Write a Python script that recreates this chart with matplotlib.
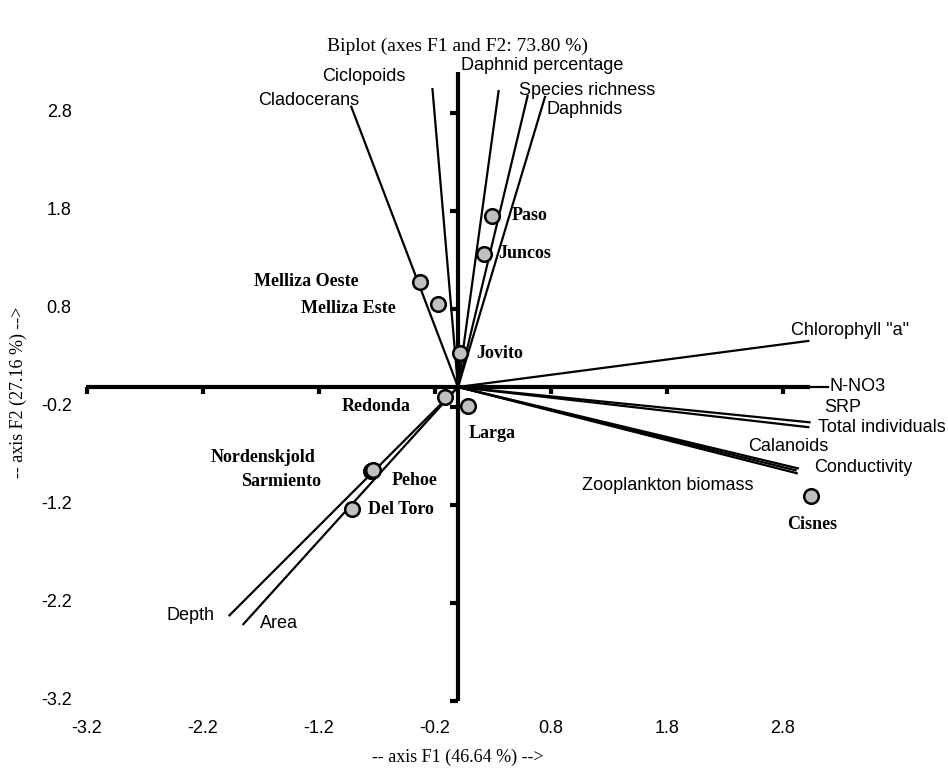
import numpy as np
import matplotlib
matplotlib.use('Agg')
from matplotlib import pyplot as plt

# variables (arrows), coordinates on F1 / F2
var_names = ['Cladocerans', 'Ciclopoids', 'Daphnid percentage', 'Species richness',
             'Daphnids', 'Chlorophyll "a"', 'N-NO3', 'SRP', 'Total individuals',
             'Calanoids', 'Zooplankton biomass', 'Conductivity', 'Depth', 'Area']
var_f1 = [-0.92, -0.22, 0.35, 0.60, 0.75, 3.02, 3.19, 3.03, 3.02, 2.93, 2.91, 2.92, -1.97, -1.85]
var_f2 = [2.86, 3.04, 3.02, 2.97, 2.96, 0.47, 0.00, -0.36, -0.41, -0.83, -0.85, -0.88, -2.33, -2.42]
# label anchors (left edge, middle)
var_lab_x = [-1.72, -1.17, 0.03, 0.53, 0.76, 2.87, 3.20, 3.16, 3.10, 2.50, 1.07, 3.07, -2.51, -1.71]
var_lab_y = [2.92, 3.17, 3.28, 3.03, 2.83, 0.58, 0.01, -0.21, -0.41, -0.61, -1.01, -0.82, -2.33, -2.41]

# lakes (observations)
obs_names = ['Paso', 'Juncos', 'Melliza Oeste', 'Melliza Este', 'Jovito', 'Redonda',
             'Larga', 'Nordenskjold', 'Sarmiento', 'Pehoe', 'Del Toro', 'Cisnes']
obs_f1 = [0.29, 0.22, -0.33, -0.17, 0.02, -0.11, 0.09, -0.75, -0.74, -0.73, -0.91, 3.04]
obs_f2 = [1.75, 1.36, 1.07, 0.85, 0.35, -0.10, -0.19, -0.86, -0.86, -0.85, -1.24, -1.11]
obs_lab_x = [0.46, 0.35, -1.76, -1.35, 0.16, -1.00, 0.09, -2.13, -1.87, -0.57, -0.78, 3.05]
obs_lab_y = [1.75, 1.36, 1.08, 0.80, 0.34, -0.20, -0.47, -0.72, -0.96, -0.95, -1.25, -1.40]

ticks = [-3.2, -2.2, -1.2, -0.2, 0.8, 1.8, 2.8]

sans = 'Liberation Sans'
serif = 'Liberation Serif'

fig = plt.figure(figsize=(9.48, 7.74), dpi=100)
ax = fig.add_axes([0, 0, 1, 1])
ax.set_xlim(-3.948, 4.224)
ax.set_ylim(-3.949, 3.949)
ax.axis('off')

# central axes
ax.plot([-3.207, 3.034], [0, 0], color='black', lw=3, solid_capstyle='butt', zorder=2)
ax.plot([0, 0], [-3.204, 3.214], color='black', lw=3, solid_capstyle='butt', zorder=2)
for t in ticks:
    ax.plot([t, t], [0, -0.07], color='black', lw=3, solid_capstyle='butt', zorder=2)
    ax.plot([0, -0.07], [t, t], color='black', lw=3, solid_capstyle='butt', zorder=2)
    ax.text(t, -3.48, f'{t:.1f}', ha='center', va='center', family=sans, fontsize=13)
    ax.text(-3.33, t, f'{t:.1f}', ha='right', va='center', family=sans, fontsize=13)

# variable vectors
for name, x, y, lx, ly in zip(var_names, var_f1, var_f2, var_lab_x, var_lab_y):
    ax.plot([0, x], [0, y], color='black', lw=1.6, zorder=3)
    ax.text(lx, ly, name, ha='left', va='center', family=sans, fontsize=13, zorder=5)

# observations
ax.plot(obs_f1, obs_f2, 'o', ms=10.5, mfc='#c0c0c0', mec='black', mew=1.8, zorder=4)
for name, lx, ly in zip(obs_names, obs_lab_x, obs_lab_y):
    ha = 'center' if name == 'Cisnes' else 'left'
    ax.text(lx, ly, name, ha=ha, va='center', family=serif, fontweight='bold',
            fontsize=13, zorder=5)

ax.text(0, 3.48, 'Biplot (axes F1 and F2: 73.80 %)', ha='center', va='center',
        family=serif, fontsize=14)
ax.text(0, -3.78, '-- axis F1 (46.64 %) -->', ha='center', va='center',
        family=serif, fontsize=13)
ax.text(-3.79, -0.05, '-- axis F2 (27.16 %) -->', ha='center', va='center',
        rotation=90, family=serif, fontsize=13)

fig.savefig('out.png', dpi=100)
